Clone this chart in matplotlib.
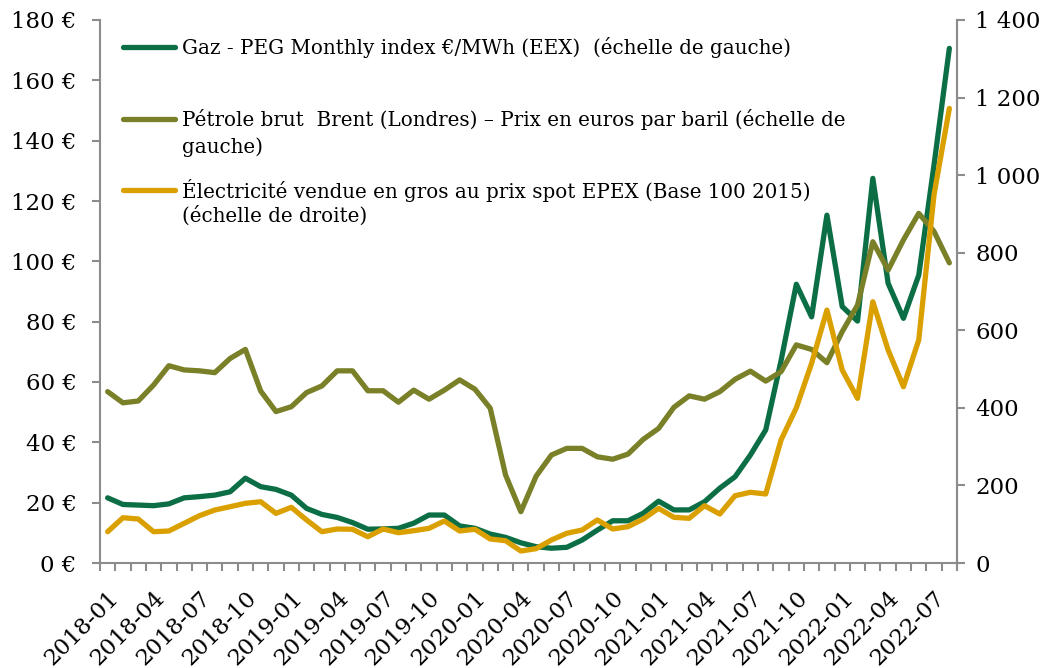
import matplotlib
matplotlib.use('Agg')
import matplotlib.pyplot as plt
from matplotlib.lines import Line2D
from matplotlib.ticker import FixedLocator, FuncFormatter, MultipleLocator

plt.rcParams['font.family'] = ['DejaVu Serif']

# mois 2018-01 .. 2022-08
mois = [f"{a}-{m:02d}" for a in range(2018, 2023) for m in range(1, 13)][:56]

# gaz PEG, euros/MWh (echelle de gauche)
gaz = [21.6, 19.4, 19.2, 19.0, 19.6, 21.6, 22.0, 22.5, 23.6, 28.1,
       25.3, 24.4, 22.5, 18.1, 16.1, 15.1, 13.4, 11.2, 11.3, 11.5,
       13.2, 15.9, 15.9, 12.3, 11.5, 9.6, 8.5, 6.7, 5.4, 4.9,
       5.2, 7.6, 10.9, 14.0, 14.0, 16.5, 20.5, 17.6, 17.6, 20.3,
       24.8, 28.6, 35.8, 44.1, 67.0, 92.4, 81.6, 115.3, 85.0, 80.2,
       127.5, 92.7, 81.1, 95.4, 132.0, 170.6]

# brent en euros par baril (echelle de gauche)
brent = [56.8, 53.1, 53.7, 59.0, 65.4, 64.0, 63.7, 63.1, 67.8, 70.8,
         57.0, 50.2, 51.8, 56.5, 58.7, 63.7, 63.7, 57.1, 57.1, 53.3,
         57.3, 54.3, 57.3, 60.7, 57.6, 51.3, 29.2, 17.0, 28.8, 35.8,
         38.0, 38.0, 35.2, 34.4, 36.1, 41.0, 44.6, 51.6, 55.4, 54.3,
         56.8, 60.9, 63.6, 60.3, 63.4, 72.3, 70.8, 66.4, 76.7, 85.5,
         106.5, 97.1, 107.1, 115.9, 109.9, 99.5]

# electricite spot EPEX, base 100 2015 (echelle de droite)
elec = [80.7, 116.8, 113.4, 80.7, 82.5, 102.3, 122.0, 136.6, 145.1, 153.9,
        158.0, 128.0, 143.6, 110.9, 80.7, 87.7, 86.9, 67.8, 87.7, 78.1,
        83.3, 89.4, 108.3, 82.5, 86.9, 61.9, 57.5, 30.9, 37.0, 59.3,
        76.6, 85.0, 110.9, 87.7, 93.6, 113.4, 141.0, 117.8, 115.2, 147.7,
        126.3, 173.5, 182.3, 177.9, 317.0, 400.0, 515.0, 652.0, 497.5, 424.6,
        673.6, 549.0, 454.5, 575.0, 950.0, 1172.0]

libelles = [
    ["Gaz - PEG Monthly index €/MWh (EEX)  (échelle de gauche)"],
    ["Pétrole brut  Brent (Londres) – Prix en euros par baril (échelle de", "gauche)"],
    ["Électricité vendue en gros au prix spot EPEX (Base 100 2015)", "(échelle de droite)"],
]

VERT = '#0b6e45'
OLIVE = '#7a8028'
JAUNE = '#daa000'
GRIS = '#8c8c8c'
LW = 3.8

W, H = 1052, 668
fig = plt.figure(figsize=(W / 100, H / 100), dpi=100)
ax = fig.add_axes([100 / W, 1 - 563 / H, 857 / W, 543 / H])
ax2 = ax.twinx()

x = range(len(mois))
ax.plot(x, gaz, color=VERT, lw=LW, solid_capstyle='round', solid_joinstyle='round')
ax.plot(x, brent, color=OLIVE, lw=LW, solid_capstyle='round', solid_joinstyle='round')
ax2.plot(x, elec, color=JAUNE, lw=LW, solid_capstyle='round', solid_joinstyle='round')

ax.set_xlim(-0.5, len(mois) - 0.5)
ax.set_ylim(0, 180)
ax2.set_ylim(0, 1400)

ax.yaxis.set_major_locator(MultipleLocator(20))
ax.yaxis.set_major_formatter(FuncFormatter(lambda v, p: f"{int(v)} €"))
ax2.yaxis.set_major_locator(MultipleLocator(200))
ax2.yaxis.set_major_formatter(FuncFormatter(lambda v, p: f"{int(v):,}".replace(",", " ")))

pos = list(range(0, len(mois), 3))
ax.xaxis.set_major_locator(FixedLocator(pos))
ax.set_xticklabels([mois[i] for i in pos], rotation=45, ha='right', va='top',
                   rotation_mode='anchor')
ax.xaxis.set_minor_locator(FixedLocator([i - 0.5 for i in range(len(mois) + 1)]))

ax.tick_params(axis='x', which='major', length=0, pad=17, labelsize=16.5)
ax.tick_params(axis='x', which='minor', length=6, width=1.5, color=GRIS)
ax.tick_params(axis='y', length=6, width=1.5, color=GRIS, pad=11, labelsize=16.5)
ax2.tick_params(axis='y', length=6, width=1.5, color=GRIS, pad=7, labelsize=16.5)

for a in (ax, ax2):
    for s in a.spines.values():
        s.set_color(GRIS)
        s.set_linewidth(1.5)
    a.spines['top'].set_visible(False)
ax2.spines['left'].set_visible(False)
ax2.spines['bottom'].set_visible(False)

# legende facon Excel
couleurs = [VERT, OLIVE, JAUNE]
lignes_y = [[47], [119, 147], [190, 216]]
for couleur, textes, ys in zip(couleurs, libelles, lignes_y):
    fig.add_artist(Line2D([123 / W, 175 / W], [1 - ys[0] / H, 1 - ys[0] / H],
                          color=couleur, lw=LW, solid_capstyle='round'))
    for t, yy in zip(textes, ys):
        fig.text(182 / W, 1 - yy / H, t, fontsize=14.3, va='center', ha='left')

fig.savefig('out.png', dpi=100)
